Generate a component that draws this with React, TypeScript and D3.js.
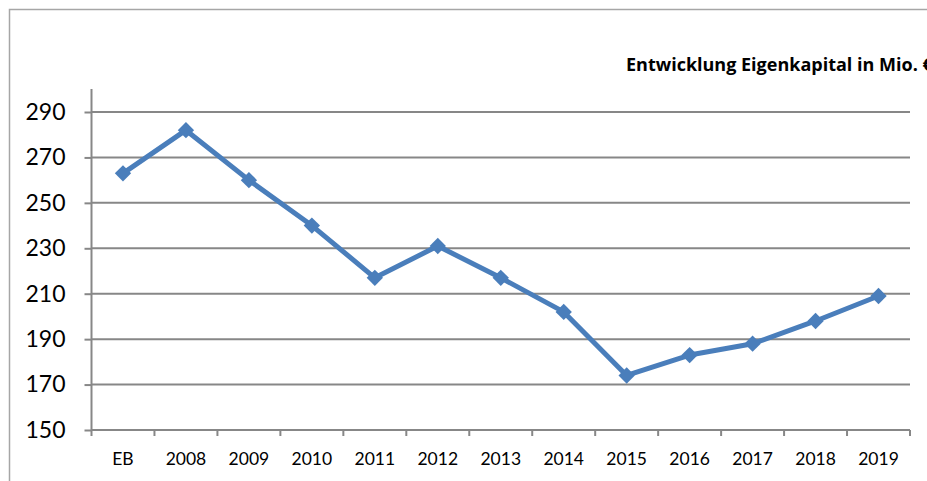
import React, { useRef, useEffect } from 'react';
import * as d3 from 'd3';

const categories = ['EB', '2008', '2009', '2010', '2011', '2012', '2013', '2014', '2015', '2016', '2017', '2018', '2019'];
const equity = [263, 282, 260, 240, 217, 231, 217, 202, 174, 183, 188, 198, 209];
const yTicks = [150, 170, 190, 210, 230, 250, 270, 290];
const title = 'Entwicklung Eigenkapital in Mio. €';

const App: React.FC = () => {
  const svgRef = useRef<SVGSVGElement | null>(null);

  useEffect(() => {
    if (!svgRef.current) return;
    const width = 927;
    const height = 481;
    const left = 91.5;
    const right = 910;
    const svg = d3.select(svgRef.current).attr('width', width).attr('height', height);
    svg.selectAll('*').remove();

    const font = 'Lato, "Open Sans", sans-serif';
    const lineColor = '#4a7ebb';
    const gridColor = '#878787';

    // outer chart frame (runs off the picture on the right and bottom)
    svg.append('rect')
      .attr('x', 9.5).attr('y', 9.5)
      .attr('width', 1000).attr('height', 600)
      .attr('fill', 'none').attr('stroke', '#a6a6a6').attr('stroke-width', 1.5);

    svg.append('text')
      .attr('x', 626).attr('y', 71)
      .style('font-family', '"Open Sans", sans-serif').style('font-weight', 'bold').style('font-size', '18px')
      .attr('fill', '#000')
      .text(title);

    const x = d3.scaleBand().domain(categories).range([left, right]);
    const y = d3.scaleLinear().domain([150, 290]).range([430, 112]);

    // horizontal gridlines
    svg.append('g').selectAll('line')
      .data(yTicks.filter(t => t !== 150))
      .enter().append('line')
      .attr('x1', left).attr('x2', right)
      .attr('y1', d => y(d)).attr('y2', d => y(d))
      .attr('stroke', gridColor).attr('stroke-width', 2);

    // y axis
    const yAxis = svg.append('g')
      .attr('transform', `translate(${left},0)`)
      .call(d3.axisLeft(y).tickValues(yTicks).tickSize(7).tickPadding(19));
    yAxis.select('.domain').attr('d', `M0,89V${y(150)}`).attr('stroke', gridColor).attr('stroke-width', 2);
    yAxis.selectAll('.tick line').attr('stroke', gridColor).attr('stroke-width', 2);
    yAxis.selectAll('.tick text')
      .style('font-family', font).style('font-size', '23px').attr('fill', '#000');

    // x axis with ticks on band boundaries
    const xAxis = svg.append('g').attr('transform', `translate(0,${y(150)})`);
    xAxis.append('line')
      .attr('x1', left).attr('x2', right)
      .attr('stroke', gridColor).attr('stroke-width', 2);
    const bounds = categories.map(c => x(c) as number).concat([right]);
    xAxis.selectAll('line.tk')
      .data(bounds)
      .enter().append('line')
      .attr('class', 'tk')
      .attr('x1', d => d).attr('x2', d => d)
      .attr('y1', 0).attr('y2', 6)
      .attr('stroke', gridColor).attr('stroke-width', 2);
    xAxis.selectAll('text')
      .data(categories)
      .enter().append('text')
      .attr('x', d => (x(d) as number) + x.bandwidth() / 2)
      .attr('y', 34.5)
      .attr('text-anchor', 'middle')
      .style('font-family', font).style('font-size', '17.5px')
      .attr('fill', '#000')
      .text(d => d);

    const cx = (i: number) => (x(categories[i]) as number) + x.bandwidth() / 2;

    const line = d3.line<number>()
      .x((_, i) => cx(i))
      .y(d => y(d));

    svg.append('path')
      .datum(equity)
      .attr('d', line)
      .attr('fill', 'none')
      .attr('stroke', lineColor)
      .attr('stroke-width', 5)
      .attr('stroke-linejoin', 'round');

    svg.append('g').selectAll('path')
      .data(equity)
      .enter().append('path')
      .attr('d', d3.symbol().type(d3.symbolDiamond2).size(170))
      .attr('transform', (d, i) => `translate(${cx(i)},${y(d)})`)
      .attr('fill', lineColor);
  }, []);

  return (
    <svg ref={svgRef} style={{ position: 'absolute', left: 0, top: 0, background: '#fff' }}></svg>
  );
};

export default App;
